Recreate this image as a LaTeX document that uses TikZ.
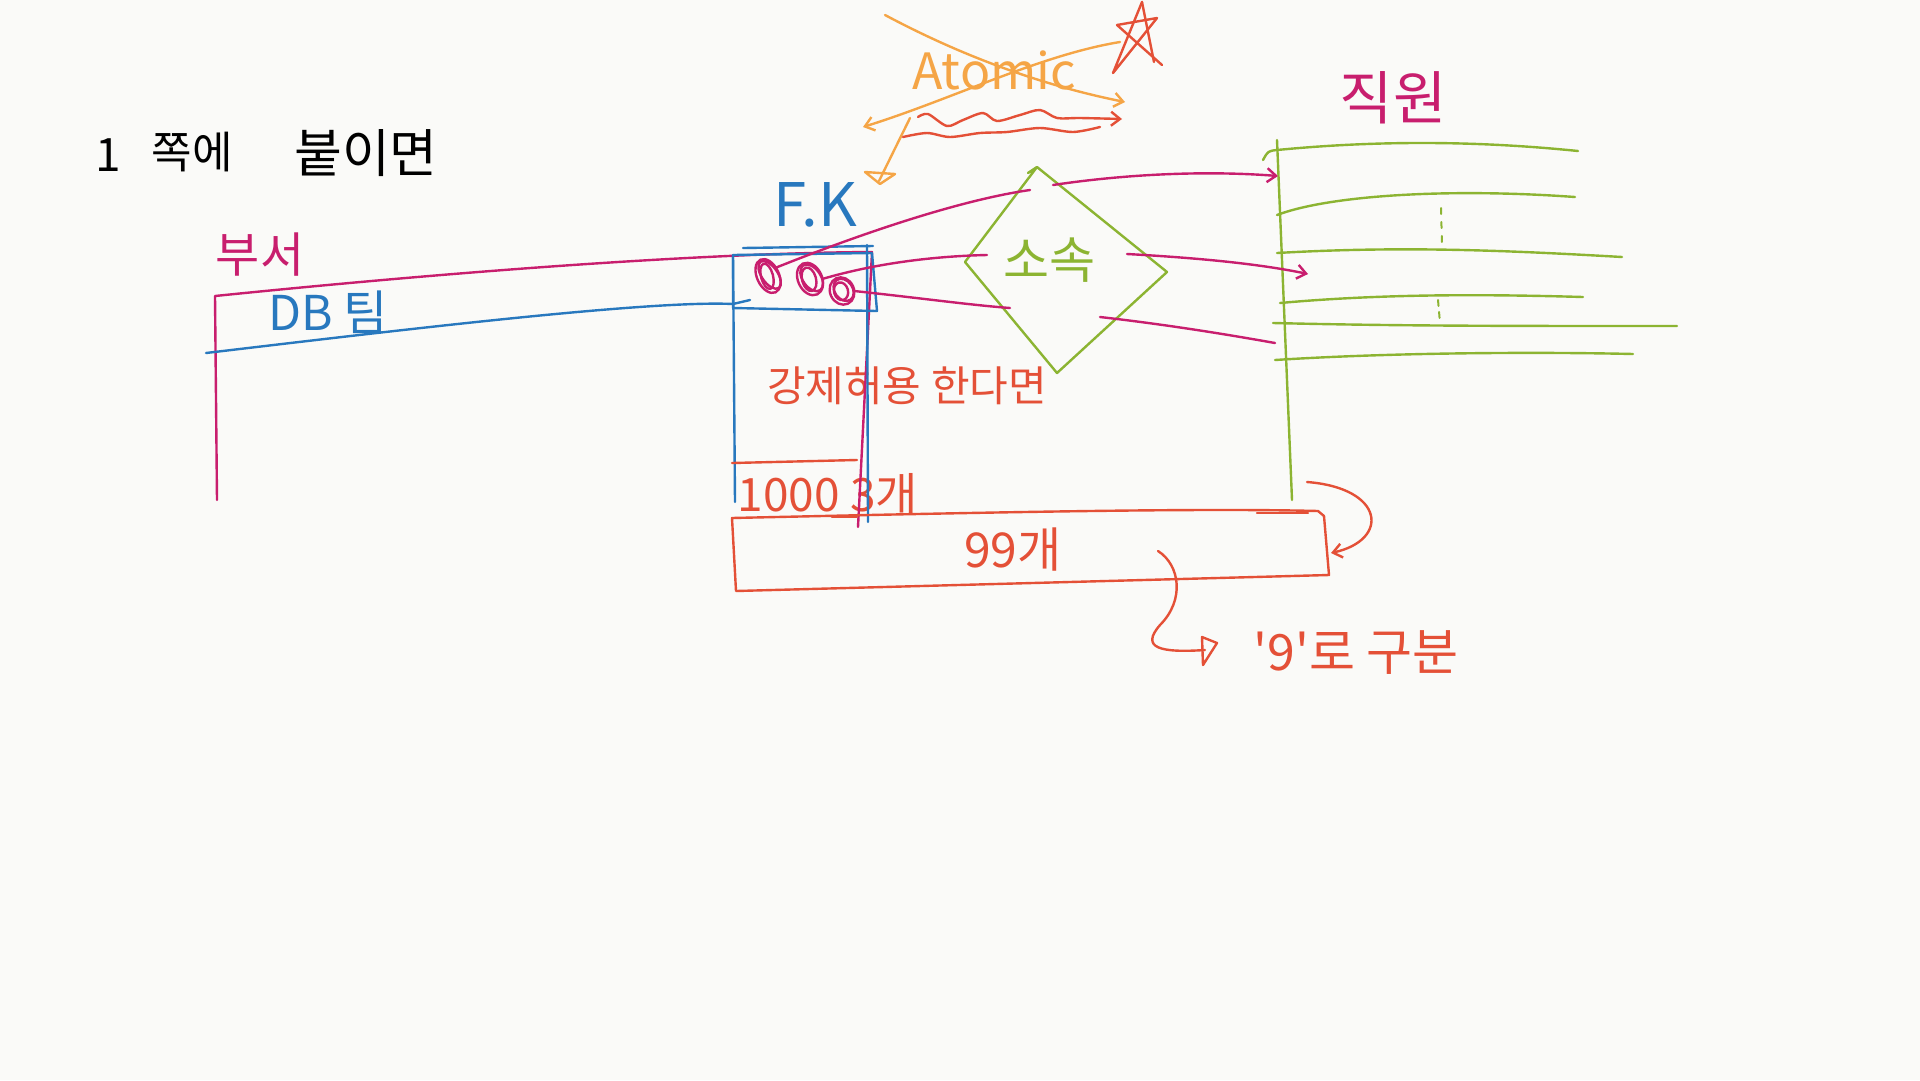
\documentclass[tikz,border=0pt]{standalone}
\usepackage{fontspec}
\newfontfamily\kr{Noto Sans CJK KR}
\usetikzlibrary{arrows.meta}
\definecolor{cbg}{RGB}{250,250,248}
\definecolor{cmag}{RGB}{200,30,110}
\definecolor{cblue}{RGB}{40,120,190}
\definecolor{cgreen}{RGB}{140,180,50}
\definecolor{corange}{RGB}{245,165,70}
\definecolor{cred}{RGB}{228,80,55}
\begin{document}
\begin{tikzpicture}[x=1pt,y=-1pt,line cap=round,line join=round,
  pen/.style={line width=2.4pt},
  arr/.style={-{Straight Barb[length=9pt,width=14pt,line width=2.4pt]}},
  lbl/.style={inner sep=0pt,font=\kr\fontsize{#1}{#1}\selectfont},
  spot/.style={circle,minimum size=24pt,inner sep=0pt}]
\fill[cbg] (0,0) rectangle (1920,1080);
\useasboundingbox (0,0) rectangle (1920,1080);

% ---- texts
\node[lbl=46,text=black] (t1) at (108,155) {1};
\node[lbl=44,text=black] (t2) at (192,152) {쪽에};
\node[lbl=52,text=black] (t3) at (366,153) {붙이면};
\node[lbl=48,text=cmag] (bu) at (260,255) {부서};
\node[lbl=48,text=cblue] (db) at (328,312) {DB 팀};
\node[lbl=60,text=cblue] (fk) at (815,205) {F.K};
\node[lbl=50,text=corange] (atomic) at (994,70) {Atomic};
\node[lbl=50,text=cgreen] (sosok) at (1049,260) {소속};
\node[lbl=58,text=cmag] (jik) at (1393,98) {직원};
\node[lbl=42,text=cred] (gang) at (907,386) {강제허용 한다면};
\node[lbl=46,text=cred] (thr) at (828,494) {1000 3개};
\node[lbl=48,text=cred] (nn) at (1013,550) {99개};
\node[lbl=50,text=cred] (sep) at (1356,653) {'9'로 구분};

% ---- 부서 table (magenta)
\draw[pen,cmag] (217,500) -- (215,296) .. controls (450,272) and (700,253) .. (872,252) -- (858,527);

% ---- DB team line (blue) and F.K box
\draw[pen,cblue] (206,353) .. controls (400,330) and (650,300) .. (733,304) -- (750,300);
\draw[pen,cblue] (733,255) -- (872,253) -- (877,311) -- (733,308) -- cycle;
\draw[pen,cblue] (743,248) -- (873,246);
\draw[pen,cblue] (867,245) -- (868,522);
\draw[pen,cblue] (733,255) -- (735,502);

% ---- scribbled keys
\node[spot] (c1) at (768,276) {};
\node[spot] (c2) at (810,279) {};
\node[spot] (c3) at (842,291) {};
\foreach \p/\a/\b in {c1/11/18,c2/12/17,c3/12/14}{
  \draw[pen,cmag,rotate around={25:(\p)}] (\p) ellipse (\a pt and \b pt);
  \draw[pen,cmag,rotate around={35:(\p)}] ([xshift=2pt]\p) ellipse (\a pt-3pt and \b pt-2pt);
  \draw[pen,cmag,rotate around={15:(\p)}] ([xshift=-1pt]\p) ellipse (\a pt-5pt and \b pt-5pt);
}

% ---- diamond 소속
\coordinate (dT) at (1037,167);
\coordinate (dR) at (1167,272);
\coordinate (dB) at (1057,373);
\coordinate (dL) at (965,262);
\draw[pen,cgreen] (1028,173) -- (dT) -- (dR) -- (dB) -- (dL) -- (dT);

% ---- 직원 table (green)
\coordinate (gt) at (1277,140);
\coordinate (gb) at (1292,500);
\draw[pen,cgreen] (gt) -- (gb);
\draw[pen,cgreen] (1263,160) .. controls (1268,151) .. (1277,150) .. controls (1380,140) and (1480,141) .. (1578,151);
\draw[pen,cgreen] (1277,215) .. controls (1330,195) and (1450,188) .. (1575,197);
\draw[pen,cgreen] (1277,253) .. controls (1400,246) and (1500,250) .. (1622,257);
\draw[pen,cgreen] (1280,303) .. controls (1380,294) and (1480,294) .. (1583,297);
\draw[pen,cgreen] (1273,323) .. controls (1400,326) and (1500,326) .. (1677,326);
\draw[pen,cgreen] (1275,360) .. controls (1400,352) and (1550,352) .. (1633,354);
\draw[line width=2pt,cgreen,dash pattern=on 6pt off 8pt] (1441,208) -- (1442,245);
\draw[line width=2pt,cgreen,dash pattern=on 6pt off 6pt] (1438,300) -- (1440,323);

% ---- magenta relations
\draw[pen,cmag] (c1.north east) .. controls (860,234) and (960,200) .. (1030,190);
\draw[pen,cmag,arr] (1053,185) .. controls (1120,175) and (1200,170) .. (1278,176);
\draw[pen,cmag] (c2.east) .. controls (880,262) and (940,256) .. (987,255);
\draw[pen,cmag,arr] (1127,254) .. controls (1200,258) and (1260,264) .. (1308,274);
\draw[pen,cmag] (c3.east) .. controls (920,298) and (970,305) .. (1010,308);
\draw[pen,cmag] (1100,317) .. controls (1170,325) and (1230,335) .. (1275,343);

% ---- Atomic crossed out
\draw[pen,corange,arr] (885,15) .. controls (960,55) and (1040,85) .. (1125,102);
\draw[pen,corange,arr] (1120,42) .. controls (1040,55) and (950,100) .. (863,127);
\draw[pen,corange] (910,118) -- (879,181);
\draw[pen,corange] (865,172) -- (895,174) -- (880,184) -- cycle;
\draw[pen,cred] (1142,2) -- (1113,73) -- (1157,18) -- (1117,25) -- (1162,65);
\draw[pen,cred] (1142,2) -- (1154,62);
\draw[pen,cred,arr] plot[smooth] coordinates {(918,117) (928,114) (947,126) (963,120) (983,113) (997,121) (1020,115) (1040,110) (1057,118) (1080,118) (1122,119)};
\draw[pen,cred] plot[smooth] coordinates {(903,137) (927,133) (950,137) (980,133) (1007,132) (1040,128) (1073,132) (1100,127)};

% ---- 1000 / 99 boxes (red)
\draw[pen,cred] (732,463) -- (857,460);
\draw[pen,cred] (732,518) .. controls (1000,512) and (1200,508) .. (1318,511) -- (1324,516) -- (1329,575) -- (736,591) -- cycle;
\draw[pen,cred] (832,517) -- (857,517);
\draw[pen,cred] (1257,513) -- (1308,513);
\draw[pen,cred,arr] (1307,482) .. controls (1385,488) and (1390,540) .. (1331,553);
\draw[pen,cred] (1158,551) .. controls (1180,565) and (1185,600) .. (1160,625) .. controls (1140,648) and (1160,653) .. (1205,650);
\draw[pen,cred] (1202,637) -- (1217,643) -- (1203,665) -- cycle;
\end{tikzpicture}
\end{document}
